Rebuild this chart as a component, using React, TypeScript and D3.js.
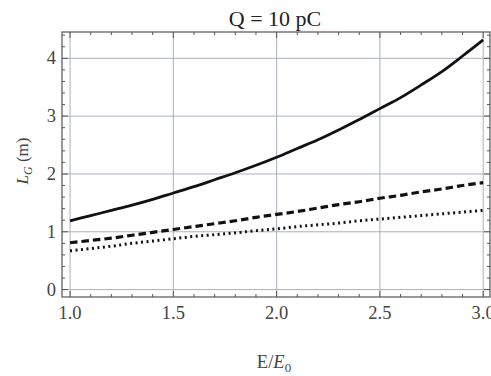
import * as d3 from "d3";

const energies = [1.0, 1.1, 1.2, 1.3, 1.4, 1.5, 1.6, 1.7, 1.8, 1.9, 2.0, 2.1, 2.2, 2.3, 2.4, 2.5, 2.6, 2.7, 2.8, 2.9, 3.0];
const solid = [1.19, 1.28, 1.37, 1.46, 1.56, 1.67, 1.78, 1.9, 2.02, 2.15, 2.29, 2.44, 2.59, 2.76, 2.94, 3.13, 3.32, 3.54, 3.77, 4.04, 4.32];
const dashed = [0.81, 0.85, 0.89, 0.94, 0.99, 1.04, 1.09, 1.14, 1.19, 1.25, 1.3, 1.35, 1.41, 1.47, 1.52, 1.58, 1.63, 1.69, 1.74, 1.8, 1.85];
const dotted = [0.67, 0.71, 0.75, 0.8, 0.84, 0.88, 0.92, 0.95, 0.98, 1.02, 1.05, 1.09, 1.12, 1.15, 1.19, 1.22, 1.25, 1.28, 1.31, 1.34, 1.37];
const xTicks = [1.0, 1.5, 2.0, 2.5, 3.0];
const yTicks = [0, 1, 2, 3, 4];

const W = 491;
const H = 376;
const left = 62;
const right = 490;
const top = 32;
const bottom = 297;
const font = "Liberation Serif, Times New Roman, serif";

export default function App() {
  const x = d3.scaleLinear().domain([0.961, 3.033]).range([left, right]);
  const y = d3.scaleLinear().domain([-0.128, 4.455]).range([bottom, top]);
  const line = d3
    .line<number>()
    .x((_, i) => x(energies[i]))
    .y((d) => y(d))
    .curve(d3.curveMonotoneX);

  const xMinor = d3.range(1.0, 3.01, 0.1).map((v) => +v.toFixed(2));
  const yMinor = d3.range(0, 4.41, 0.2).map((v) => +v.toFixed(2));
  const frame = "#555";
  const grid = "#a9b0bd";

  return (
    <svg width={W} height={H} style={{ position: "absolute", left: 0, top: 0, background: "#fff" }}>
      {/* grid */}
      {xTicks.map((t) => (
        <line key={"gx" + t} x1={x(t)} x2={x(t)} y1={top} y2={bottom} stroke={grid} strokeWidth={1} />
      ))}
      {yTicks.map((t) => (
        <line key={"gy" + t} x1={left} x2={right} y1={y(t)} y2={y(t)} stroke={grid} strokeWidth={1} />
      ))}
      {/* ticks */}
      {xMinor.map((t) => {
        const major = xTicks.some((m) => Math.abs(m - t) < 1e-6);
        const len = major ? 6 : 3;
        return (
          <g key={"tx" + t}>
            <line x1={x(t)} x2={x(t)} y1={bottom} y2={bottom - len} stroke={frame} />
            <line x1={x(t)} x2={x(t)} y1={top} y2={top + len} stroke={frame} />
          </g>
        );
      })}
      {yMinor.map((t) => {
        const major = yTicks.some((m) => Math.abs(m - t) < 1e-6);
        const len = major ? 6 : 3;
        return (
          <g key={"ty" + t}>
            <line x1={left} x2={left + len} y1={y(t)} y2={y(t)} stroke={frame} />
            <line x1={right} x2={right - len} y1={y(t)} y2={y(t)} stroke={frame} />
          </g>
        );
      })}
      {/* curves */}
      <path d={line(dotted) ?? ""} fill="none" stroke="#111" strokeWidth={3} strokeDasharray="2 3.5" />
      <path d={line(dashed) ?? ""} fill="none" stroke="#111" strokeWidth={3.2} strokeDasharray="7.5 4" />
      <path d={line(solid) ?? ""} fill="none" stroke="#111" strokeWidth={2.8} />
      {/* frame */}
      <rect x={left} y={top} width={right - left} height={bottom - top} fill="none" stroke={frame} strokeWidth={1.2} />
      {/* tick labels */}
      {xTicks.map((t) => (
        <text key={"lx" + t} x={x(t)} y={bottom + 22} textAnchor="middle" fontFamily={font} fontSize={18.5} fill="#444">
          {t.toFixed(1)}
        </text>
      ))}
      {yTicks.map((t) => (
        <text key={"ly" + t} x={left - 6} y={y(t) + 6} textAnchor="end" fontFamily={font} fontSize={18.5} fill="#444">
          {t}
        </text>
      ))}
      {/* title */}
      <text x={275} y={26} textAnchor="middle" fontFamily={font} fontSize={22} fill="#222">
        Q = 10 pC
      </text>
      {/* axis labels */}
      <text x={274} y={368} textAnchor="middle" fontFamily={font} fontSize={18.5} fill="#444">
        E/<tspan fontStyle="italic">E</tspan>
        <tspan fontSize={13} dy={4}>0</tspan>
      </text>
      <text transform={`translate(28, 161) rotate(-90)`} textAnchor="middle" fontFamily={font} fontSize={17} fill="#444">
        <tspan fontStyle="italic">L</tspan>
        <tspan fontStyle="italic" fontSize={12} dy={4}>G</tspan>
        <tspan dy={-4}> (m)</tspan>
      </text>
    </svg>
  );
}
